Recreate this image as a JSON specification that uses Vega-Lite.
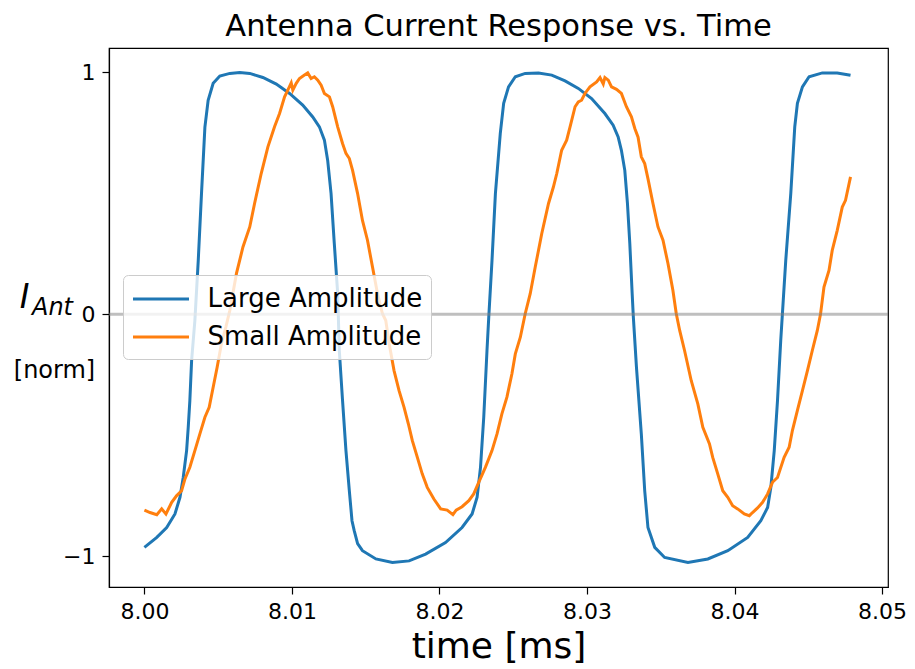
{
 "$schema": "https://vega.github.io/schema/vega-lite/v6.json",
 "width": 779, "height": 539,
 "autosize": {"type": "none"},
 "padding": {"left": 109, "top": 48, "right": 27, "bottom": 82},
 "background": "white",
 "config": {
  "font": "DejaVu Sans",
  "view": {"stroke": "black", "strokeWidth": 1.2},
  "axis": {"grid": false, "domainColor": "black", "domainWidth": 1.2, "tickColor": "black", "tickWidth": 1.2, "labelColor": "black", "titleColor": "black", "titleFontWeight": "normal"}
 },
 "title": {"text": "Antenna Current Response vs. Time", "fontSize": 30.5, "fontWeight": "normal", "color": "black", "frame": "group", "anchor": "middle", "offset": 6},
 "datasets": {
  "large": [
   {"t":8.00000,"v":-0.964,"series":"Large Amplitude"},{"t":8.00084,"v":-0.923,"series":"Large Amplitude"},{"t":8.00151,"v":-0.882,"series":"Large Amplitude"},{"t":8.00207,"v":-0.826,"series":"Large Amplitude"},{"t":8.00241,"v":-0.757,"series":"Large Amplitude"},{"t":8.00263,"v":-0.675,"series":"Large Amplitude"},{"t":8.00286,"v":-0.564,"series":"Large Amplitude"},{"t":8.00297,"v":-0.468,"series":"Large Amplitude"},{"t":8.00308,"v":-0.357,"series":"Large Amplitude"},{"t":8.00320,"v":-0.191,"series":"Large Amplitude"},{"t":8.00342,"v":-0.026,"series":"Large Amplitude"},{"t":8.00365,"v":0.223,"series":"Large Amplitude"},{"t":8.00387,"v":0.500,"series":"Large Amplitude"},{"t":8.00410,"v":0.774,"series":"Large Amplitude"},{"t":8.00432,"v":0.885,"series":"Large Amplitude"},{"t":8.00466,"v":0.955,"series":"Large Amplitude"},{"t":8.00511,"v":0.985,"series":"Large Amplitude"},{"t":8.00579,"v":0.996,"series":"Large Amplitude"},{"t":8.00646,"v":1.000,"series":"Large Amplitude"},{"t":8.00714,"v":0.996,"series":"Large Amplitude"},{"t":8.00803,"v":0.979,"series":"Large Amplitude"},{"t":8.00894,"v":0.952,"series":"Large Amplitude"},{"t":8.00984,"v":0.913,"series":"Large Amplitude"},{"t":8.01073,"v":0.865,"series":"Large Amplitude"},{"t":8.01141,"v":0.816,"series":"Large Amplitude"},{"t":8.01186,"v":0.775,"series":"Large Amplitude"},{"t":8.01220,"v":0.720,"series":"Large Amplitude"},{"t":8.01242,"v":0.637,"series":"Large Amplitude"},{"t":8.01265,"v":0.500,"series":"Large Amplitude"},{"t":8.01287,"v":0.293,"series":"Large Amplitude"},{"t":8.01310,"v":0.086,"series":"Large Amplitude"},{"t":8.01321,"v":-0.150,"series":"Large Amplitude"},{"t":8.01343,"v":-0.357,"series":"Large Amplitude"},{"t":8.01366,"v":-0.564,"series":"Large Amplitude"},{"t":8.01389,"v":-0.730,"series":"Large Amplitude"},{"t":8.01407,"v":-0.854,"series":"Large Amplitude"},{"t":8.01422,"v":-0.895,"series":"Large Amplitude"},{"t":8.01445,"v":-0.949,"series":"Large Amplitude"},{"t":8.01478,"v":-0.978,"series":"Large Amplitude"},{"t":8.01569,"v":-1.012,"series":"Large Amplitude"},{"t":8.01681,"v":-1.027,"series":"Large Amplitude"},{"t":8.01794,"v":-1.020,"series":"Large Amplitude"},{"t":8.01906,"v":-0.992,"series":"Large Amplitude"},{"t":8.02041,"v":-0.944,"series":"Large Amplitude"},{"t":8.02153,"v":-0.882,"series":"Large Amplitude"},{"t":8.02221,"v":-0.826,"series":"Large Amplitude"},{"t":8.02255,"v":-0.757,"series":"Large Amplitude"},{"t":8.02278,"v":-0.633,"series":"Large Amplitude"},{"t":8.02300,"v":-0.426,"series":"Large Amplitude"},{"t":8.02322,"v":-0.150,"series":"Large Amplitude"},{"t":8.02334,"v":-0.012,"series":"Large Amplitude"},{"t":8.02356,"v":0.223,"series":"Large Amplitude"},{"t":8.02379,"v":0.499,"series":"Large Amplitude"},{"t":8.02412,"v":0.747,"series":"Large Amplitude"},{"t":8.02435,"v":0.872,"series":"Large Amplitude"},{"t":8.02468,"v":0.940,"series":"Large Amplitude"},{"t":8.02514,"v":0.982,"series":"Large Amplitude"},{"t":8.02581,"v":0.996,"series":"Large Amplitude"},{"t":8.02671,"v":0.998,"series":"Large Amplitude"},{"t":8.02761,"v":0.989,"series":"Large Amplitude"},{"t":8.02851,"v":0.965,"series":"Large Amplitude"},{"t":8.02941,"v":0.934,"series":"Large Amplitude"},{"t":8.03031,"v":0.892,"series":"Large Amplitude"},{"t":8.03121,"v":0.830,"series":"Large Amplitude"},{"t":8.03177,"v":0.782,"series":"Large Amplitude"},{"t":8.03211,"v":0.733,"series":"Large Amplitude"},{"t":8.03233,"v":0.678,"series":"Large Amplitude"},{"t":8.03256,"v":0.595,"series":"Large Amplitude"},{"t":8.03274,"v":0.458,"series":"Large Amplitude"},{"t":8.03290,"v":0.292,"series":"Large Amplitude"},{"t":8.03306,"v":0.085,"series":"Large Amplitude"},{"t":8.03314,"v":-0.012,"series":"Large Amplitude"},{"t":8.03335,"v":-0.219,"series":"Large Amplitude"},{"t":8.03368,"v":-0.495,"series":"Large Amplitude"},{"t":8.03391,"v":-0.730,"series":"Large Amplitude"},{"t":8.03413,"v":-0.882,"series":"Large Amplitude"},{"t":8.03459,"v":-0.964,"series":"Large Amplitude"},{"t":8.03526,"v":-1.006,"series":"Large Amplitude"},{"t":8.03684,"v":-1.027,"series":"Large Amplitude"},{"t":8.03819,"v":-1.012,"series":"Large Amplitude"},{"t":8.03954,"v":-0.978,"series":"Large Amplitude"},{"t":8.04089,"v":-0.923,"series":"Large Amplitude"},{"t":8.04178,"v":-0.854,"series":"Large Amplitude"},{"t":8.04224,"v":-0.799,"series":"Large Amplitude"},{"t":8.04246,"v":-0.716,"series":"Large Amplitude"},{"t":8.04269,"v":-0.564,"series":"Large Amplitude"},{"t":8.04291,"v":-0.357,"series":"Large Amplitude"},{"t":8.04313,"v":-0.108,"series":"Large Amplitude"},{"t":8.04330,"v":0.057,"series":"Large Amplitude"},{"t":8.04347,"v":0.223,"series":"Large Amplitude"},{"t":8.04381,"v":0.499,"series":"Large Amplitude"},{"t":8.04408,"v":0.775,"series":"Large Amplitude"},{"t":8.04426,"v":0.872,"series":"Large Amplitude"},{"t":8.04460,"v":0.940,"series":"Large Amplitude"},{"t":8.04505,"v":0.982,"series":"Large Amplitude"},{"t":8.04595,"v":0.998,"series":"Large Amplitude"},{"t":8.04696,"v":0.998,"series":"Large Amplitude"},{"t":8.04786,"v":0.988,"series":"Large Amplitude"}
  ],
  "small": [
   {"t":8.00000,"v":-0.810,"series":"Small Amplitude"},{"t":8.00038,"v":-0.820,"series":"Small Amplitude"},{"t":8.00084,"v":-0.829,"series":"Small Amplitude"},{"t":8.00117,"v":-0.805,"series":"Small Amplitude"},{"t":8.00146,"v":-0.826,"series":"Small Amplitude"},{"t":8.00185,"v":-0.778,"series":"Small Amplitude"},{"t":8.00219,"v":-0.750,"series":"Small Amplitude"},{"t":8.00252,"v":-0.730,"series":"Small Amplitude"},{"t":8.00275,"v":-0.681,"series":"Small Amplitude"},{"t":8.00308,"v":-0.633,"series":"Small Amplitude"},{"t":8.00342,"v":-0.564,"series":"Small Amplitude"},{"t":8.00376,"v":-0.495,"series":"Small Amplitude"},{"t":8.00410,"v":-0.426,"series":"Small Amplitude"},{"t":8.00439,"v":-0.385,"series":"Small Amplitude"},{"t":8.00466,"v":-0.302,"series":"Small Amplitude"},{"t":8.00493,"v":-0.219,"series":"Small Amplitude"},{"t":8.00522,"v":-0.122,"series":"Small Amplitude"},{"t":8.00552,"v":-0.053,"series":"Small Amplitude"},{"t":8.00579,"v":0.016,"series":"Small Amplitude"},{"t":8.00624,"v":0.169,"series":"Small Amplitude"},{"t":8.00668,"v":0.278,"series":"Small Amplitude"},{"t":8.00714,"v":0.361,"series":"Small Amplitude"},{"t":8.00747,"v":0.459,"series":"Small Amplitude"},{"t":8.00792,"v":0.583,"series":"Small Amplitude"},{"t":8.00837,"v":0.692,"series":"Small Amplitude"},{"t":8.00882,"v":0.775,"series":"Small Amplitude"},{"t":8.00916,"v":0.830,"series":"Small Amplitude"},{"t":8.00950,"v":0.899,"series":"Small Amplitude"},{"t":8.00972,"v":0.927,"series":"Small Amplitude"},{"t":8.00995,"v":0.957,"series":"Small Amplitude"},{"t":8.01006,"v":0.927,"series":"Small Amplitude"},{"t":8.01029,"v":0.955,"series":"Small Amplitude"},{"t":8.01051,"v":0.975,"series":"Small Amplitude"},{"t":8.01085,"v":0.989,"series":"Small Amplitude"},{"t":8.01107,"v":0.998,"series":"Small Amplitude"},{"t":8.01130,"v":0.975,"series":"Small Amplitude"},{"t":8.01152,"v":0.982,"series":"Small Amplitude"},{"t":8.01175,"v":0.968,"series":"Small Amplitude"},{"t":8.01198,"v":0.947,"series":"Small Amplitude"},{"t":8.01220,"v":0.913,"series":"Small Amplitude"},{"t":8.01254,"v":0.899,"series":"Small Amplitude"},{"t":8.01276,"v":0.858,"series":"Small Amplitude"},{"t":8.01310,"v":0.775,"series":"Small Amplitude"},{"t":8.01343,"v":0.706,"series":"Small Amplitude"},{"t":8.01366,"v":0.665,"series":"Small Amplitude"},{"t":8.01389,"v":0.644,"series":"Small Amplitude"},{"t":8.01411,"v":0.595,"series":"Small Amplitude"},{"t":8.01445,"v":0.499,"series":"Small Amplitude"},{"t":8.01478,"v":0.388,"series":"Small Amplitude"},{"t":8.01512,"v":0.306,"series":"Small Amplitude"},{"t":8.01546,"v":0.195,"series":"Small Amplitude"},{"t":8.01580,"v":0.085,"series":"Small Amplitude"},{"t":8.01613,"v":0.003,"series":"Small Amplitude"},{"t":8.01636,"v":-0.026,"series":"Small Amplitude"},{"t":8.01659,"v":-0.122,"series":"Small Amplitude"},{"t":8.01692,"v":-0.233,"series":"Small Amplitude"},{"t":8.01726,"v":-0.316,"series":"Small Amplitude"},{"t":8.01760,"v":-0.385,"series":"Small Amplitude"},{"t":8.01789,"v":-0.453,"series":"Small Amplitude"},{"t":8.01816,"v":-0.523,"series":"Small Amplitude"},{"t":8.01850,"v":-0.592,"series":"Small Amplitude"},{"t":8.01883,"v":-0.660,"series":"Small Amplitude"},{"t":8.01917,"v":-0.716,"series":"Small Amplitude"},{"t":8.01962,"v":-0.764,"series":"Small Amplitude"},{"t":8.02008,"v":-0.805,"series":"Small Amplitude"},{"t":8.02052,"v":-0.810,"series":"Small Amplitude"},{"t":8.02091,"v":-0.829,"series":"Small Amplitude"},{"t":8.02113,"v":-0.810,"series":"Small Amplitude"},{"t":8.02153,"v":-0.796,"series":"Small Amplitude"},{"t":8.02199,"v":-0.771,"series":"Small Amplitude"},{"t":8.02232,"v":-0.743,"series":"Small Amplitude"},{"t":8.02266,"v":-0.695,"series":"Small Amplitude"},{"t":8.02311,"v":-0.633,"series":"Small Amplitude"},{"t":8.02356,"v":-0.564,"series":"Small Amplitude"},{"t":8.02390,"v":-0.495,"series":"Small Amplitude"},{"t":8.02423,"v":-0.412,"series":"Small Amplitude"},{"t":8.02457,"v":-0.343,"series":"Small Amplitude"},{"t":8.02491,"v":-0.246,"series":"Small Amplitude"},{"t":8.02514,"v":-0.164,"series":"Small Amplitude"},{"t":8.02548,"v":-0.095,"series":"Small Amplitude"},{"t":8.02581,"v":0.002,"series":"Small Amplitude"},{"t":8.02615,"v":0.085,"series":"Small Amplitude"},{"t":8.02649,"v":0.195,"series":"Small Amplitude"},{"t":8.02693,"v":0.333,"series":"Small Amplitude"},{"t":8.02739,"v":0.458,"series":"Small Amplitude"},{"t":8.02772,"v":0.526,"series":"Small Amplitude"},{"t":8.02795,"v":0.582,"series":"Small Amplitude"},{"t":8.02828,"v":0.678,"series":"Small Amplitude"},{"t":8.02862,"v":0.720,"series":"Small Amplitude"},{"t":8.02885,"v":0.775,"series":"Small Amplitude"},{"t":8.02919,"v":0.858,"series":"Small Amplitude"},{"t":8.02941,"v":0.878,"series":"Small Amplitude"},{"t":8.02963,"v":0.885,"series":"Small Amplitude"},{"t":8.02986,"v":0.913,"series":"Small Amplitude"},{"t":8.03020,"v":0.940,"series":"Small Amplitude"},{"t":8.03065,"v":0.961,"series":"Small Amplitude"},{"t":8.03088,"v":0.979,"series":"Small Amplitude"},{"t":8.03110,"v":0.952,"series":"Small Amplitude"},{"t":8.03121,"v":0.979,"series":"Small Amplitude"},{"t":8.03144,"v":0.968,"series":"Small Amplitude"},{"t":8.03166,"v":0.940,"series":"Small Amplitude"},{"t":8.03200,"v":0.930,"series":"Small Amplitude"},{"t":8.03233,"v":0.913,"series":"Small Amplitude"},{"t":8.03267,"v":0.858,"series":"Small Amplitude"},{"t":8.03301,"v":0.816,"series":"Small Amplitude"},{"t":8.03324,"v":0.768,"series":"Small Amplitude"},{"t":8.03346,"v":0.732,"series":"Small Amplitude"},{"t":8.03368,"v":0.651,"series":"Small Amplitude"},{"t":8.03391,"v":0.623,"series":"Small Amplitude"},{"t":8.03413,"v":0.561,"series":"Small Amplitude"},{"t":8.03447,"v":0.458,"series":"Small Amplitude"},{"t":8.03481,"v":0.361,"series":"Small Amplitude"},{"t":8.03515,"v":0.306,"series":"Small Amplitude"},{"t":8.03549,"v":0.209,"series":"Small Amplitude"},{"t":8.03582,"v":0.099,"series":"Small Amplitude"},{"t":8.03605,"v":0.002,"series":"Small Amplitude"},{"t":8.03628,"v":-0.067,"series":"Small Amplitude"},{"t":8.03661,"v":-0.150,"series":"Small Amplitude"},{"t":8.03706,"v":-0.274,"series":"Small Amplitude"},{"t":8.03751,"v":-0.371,"series":"Small Amplitude"},{"t":8.03785,"v":-0.468,"series":"Small Amplitude"},{"t":8.03830,"v":-0.536,"series":"Small Amplitude"},{"t":8.03852,"v":-0.592,"series":"Small Amplitude"},{"t":8.03886,"v":-0.660,"series":"Small Amplitude"},{"t":8.03920,"v":-0.730,"series":"Small Amplitude"},{"t":8.03954,"v":-0.757,"series":"Small Amplitude"},{"t":8.03987,"v":-0.792,"series":"Small Amplitude"},{"t":8.04021,"v":-0.805,"series":"Small Amplitude"},{"t":8.04066,"v":-0.826,"series":"Small Amplitude"},{"t":8.04100,"v":-0.833,"series":"Small Amplitude"},{"t":8.04122,"v":-0.820,"series":"Small Amplitude"},{"t":8.04156,"v":-0.801,"series":"Small Amplitude"},{"t":8.04190,"v":-0.778,"series":"Small Amplitude"},{"t":8.04224,"v":-0.743,"series":"Small Amplitude"},{"t":8.04257,"v":-0.695,"series":"Small Amplitude"},{"t":8.04291,"v":-0.675,"series":"Small Amplitude"},{"t":8.04336,"v":-0.592,"series":"Small Amplitude"},{"t":8.04370,"v":-0.550,"series":"Small Amplitude"},{"t":8.04392,"v":-0.481,"series":"Small Amplitude"},{"t":8.04426,"v":-0.398,"series":"Small Amplitude"},{"t":8.04460,"v":-0.316,"series":"Small Amplitude"},{"t":8.04494,"v":-0.233,"series":"Small Amplitude"},{"t":8.04527,"v":-0.150,"series":"Small Amplitude"},{"t":8.04561,"v":-0.067,"series":"Small Amplitude"},{"t":8.04583,"v":0.002,"series":"Small Amplitude"},{"t":8.04606,"v":0.112,"series":"Small Amplitude"},{"t":8.04640,"v":0.181,"series":"Small Amplitude"},{"t":8.04662,"v":0.264,"series":"Small Amplitude"},{"t":8.04696,"v":0.347,"series":"Small Amplitude"},{"t":8.04730,"v":0.443,"series":"Small Amplitude"},{"t":8.04752,"v":0.471,"series":"Small Amplitude"},{"t":8.04786,"v":0.568,"series":"Small Amplitude"}
  ],
  "zero": [{"level": 0}]
 },
 "layer": [
  {
   "data": {"name": "large"},
   "mark": {"type": "line", "strokeWidth": 3},
   "encoding": {
    "x": {"field": "t", "type": "quantitative", "scale": {"domain": [7.9976, 8.0504], "nice": false, "zero": false},
     "axis": {"values": [8.0, 8.01, 8.02, 8.03, 8.04, 8.05], "format": ".2f", "labelFontSize": 22, "tickSize": 7, "labelPadding": 7, "title": "time [ms]", "titleFontSize": 36, "titleBaseline": "alphabetic", "titleY": 70}},
    "y": {"field": "v", "type": "quantitative", "scale": {"domain": [-1.128, 1.101], "nice": false, "zero": false},
     "axis": {"orient": "left", "values": [-1, 0, 1], "format": "d", "labelFontSize": 22, "tickSize": 7, "labelPadding": 7, "title": "I", "titleFontSize": 33, "titleFontStyle": "italic", "titleAngle": 0, "titleAlign": "center", "titleBaseline": "alphabetic", "titleX": -85, "titleY": 259}},
    "color": {"field": "series", "type": "nominal", "scale": {"domain": ["Large Amplitude", "Small Amplitude"], "range": ["#1f77b4", "#ff7f0e"]},
     "legend": {"orient": "none", "legendX": 14, "legendY": 227, "zindex": 1, "title": null, "labelFontSize": 26, "labelLimit": 500, "labelColor": "black", "symbolType": "M-2,0H2", "symbolSize": 784, "symbolStrokeWidth": 3, "symbolOffset": 14, "labelOffset": 31, "rowPadding": 9, "padding": 8.5, "strokeColor": "#cccccc", "fillColor": "rgba(255,255,255,0.8)", "cornerRadius": 5}}
   }
  },
  {
   "data": {"name": "small"},
   "mark": {"type": "line", "strokeWidth": 3},
   "encoding": {
    "x": {"field": "t", "type": "quantitative", "scale": {"domain": [7.9976, 8.0504], "nice": false, "zero": false}},
    "y": {"field": "v", "type": "quantitative", "scale": {"domain": [-1.128, 1.101], "nice": false, "zero": false},
     "axis": {"orient": "left", "labels": false, "ticks": false, "domain": false, "title": "Ant", "titleFontSize": 24, "titleFontStyle": "italic", "titleAngle": 0, "titleAlign": "center", "titleBaseline": "alphabetic", "titleX": -57, "titleY": 266}},
    "color": {"field": "series", "type": "nominal"}
   }
  },
  {
   "data": {"name": "zero"},
   "mark": {"type": "rule", "color": "gray", "opacity": 0.5, "strokeWidth": 3},
   "encoding": {
    "y": {"field": "level", "type": "quantitative", "scale": {"domain": [-1.128, 1.101], "nice": false, "zero": false},
     "axis": {"orient": "left", "labels": false, "ticks": false, "domain": false, "title": "[norm]", "titleFontSize": 24, "titleAngle": 0, "titleAlign": "center", "titleBaseline": "alphabetic", "titleX": -55, "titleY": 329}}
   }
  }
 ],
 "resolve": {"axis": {"y": "independent"}}
}
